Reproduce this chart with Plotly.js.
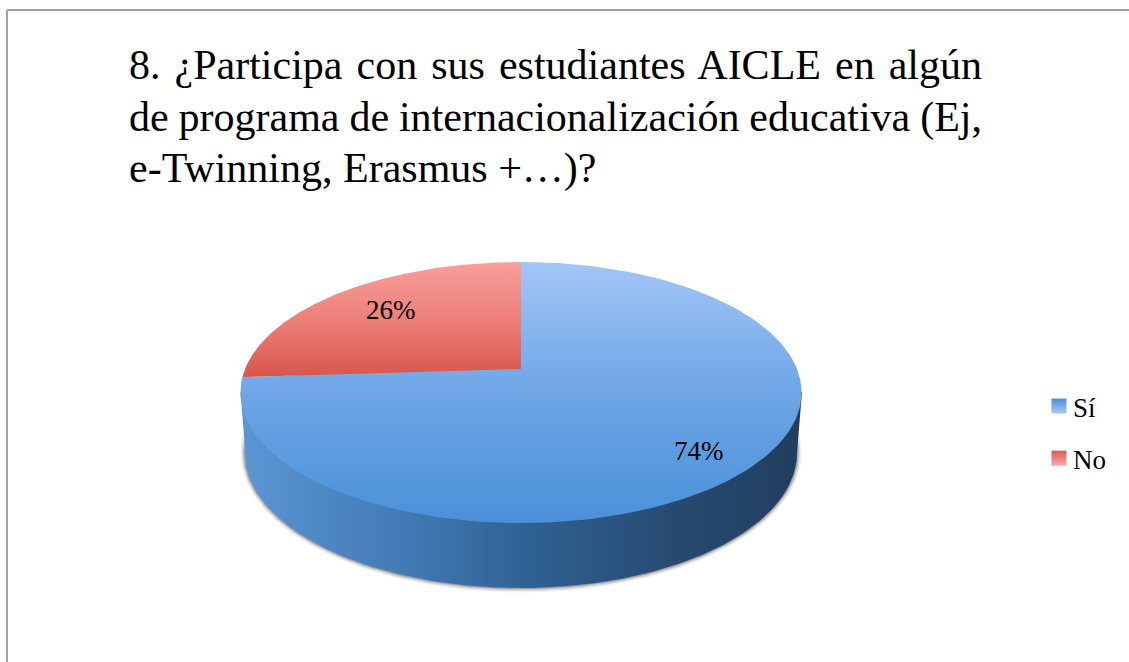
<!DOCTYPE html>
<html>
<head>
<meta charset="utf-8">
<script src="https://cdn.plot.ly/plotly-3.0.1.min.js"></script>
<style>html,body{margin:0;padding:0;background:#fff}#chart{width:1129px;height:662px}</style>
</head>
<body>
<div id="chart"></div>
<script>
const categories = ['Sí', 'No'];
const values = [74, 26];
const labelX = [699, 391];
const labelY = [451, 310];
const titleLines = [
  '8. ¿Participa con sus estudiantes AICLE en algún',
  'de programa de internacionalización educativa (Ej,',
  'e-Twinning, Erasmus +…)?'
];
const faceScales = [
  [[0, '#a2c6f7'], [0.5, '#6ea6e6'], [1, '#4a90d8']],
  [[0, '#f8a09c'], [0.5, '#ec7f78'], [1, '#d9564c']]
];
const legendColors = [
  ['#a8cbf8', '#4a8fd6'],
  ['#fba9a6', '#d95a50']
];
const wallScale = [[0, '#5b95d4'], [0.3, '#4079b3'], [0.52, '#2f6092'], [0.78, '#274a71'], [1, '#213e5f']];
const serif = '"Liberation Serif", "Times New Roman", serif';

/* perspective disc: apex at (cx, cy), far edge shrinks */
const cx = 521, cy = 369, A = 276, B = 126.3, P = 0.18;
function proj(deg) {
  const t = deg * Math.PI / 180, u = Math.sin(t), v = Math.cos(t), w = 1 + P * v;
  return [cx + A * u / w, cy - B * v / w];
}
function sector(fromDeg, toDeg) {
  const xs = [cx], ys = [cy];
  for (let d = fromDeg; d <= toDeg + 1e-6; d += (toDeg - fromDeg) / 240) {
    const p = proj(d); xs.push(p[0]); ys.push(p[1]);
  }
  xs.push(cx); ys.push(cy);
  return [xs, ys];
}
function ellipse(ex, ey, rx, ry, from, to) {
  const xs = [], ys = [];
  for (let i = 0; i <= 240; i++) {
    const t = (from + (to - from) * i / 240) * Math.PI / 180;
    xs.push(ex + rx * Math.cos(t)); ys.push(ey + ry * Math.sin(t));
  }
  return [xs, ys];
}

const traces = [];
/* soft shadow beneath the wall */
[[4.5, 0.07], [3.2, 0.10], [2, 0.16], [1, 0.22]].forEach(function (s) {
  const e = ellipse(521, 453, 276 + s[0], 135 + s[0], 0, 360);
  traces.push({x: e[0], y: e[1], mode: 'lines', fill: 'toself', line: {width: 0},
    fillcolor: 'rgba(40,40,40,' + s[1] + ')', showlegend: false, hoverinfo: 'skip'});
});
/* side wall */
const w1 = ellipse(521, 453, 276, 135, 180, 0);
traces.push({x: [240.5].concat(w1[0], [802]), y: [392].concat(w1[1], [392]), mode: 'lines', fill: 'toself',
  line: {width: 0}, fillgradient: {type: 'horizontal', colorscale: wallScale, start: 245, stop: 800},
  showlegend: false, hoverinfo: 'skip'});
/* top faces, from the values */
const total = values.reduce(function (a, b) { return a + b; }, 0);
let acc = 0;
values.forEach(function (v, i) {
  const a0 = acc / total * 360, a1 = (acc + v) / total * 360;
  acc += v;
  const s = sector(a0, a1);
  const ys = s[1].slice().sort(function (p, q) { return p - q; });
  traces.push({x: s[0], y: s[1], mode: 'lines', fill: 'toself', line: {width: 0},
    fillgradient: {type: 'vertical', colorscale: faceScales[i], start: ys[0], stop: ys[ys.length - 1]},
    name: categories[i], showlegend: false, hoverinfo: 'skip'});
});
/* legend keys */
categories.forEach(function (c, i) {
  traces.push({x: [null], y: [null], mode: 'markers', name: c, legendgroup: c,
    marker: {symbol: 'square', size: 15, color: legendColors[i][1], line: {width: 0},
      gradient: {type: 'vertical', color: legendColors[i][0]}}, hoverinfo: 'skip'});
});

const layout = {
  width: 1129, height: 662, margin: {l: 0, r: 0, t: 0, b: 0},
  paper_bgcolor: '#fff', plot_bgcolor: 'rgba(0,0,0,0)',
  title: {text: titleLines.join('<br>'), x: 129 / 1129, xanchor: 'left', xref: 'paper',
    y: 1 - 79 / 662, yanchor: 'top', yref: 'container', font: {family: serif, size: 42, color: '#000'}},
  xaxis: {range: [0, 1129], visible: false, fixedrange: true},
  yaxis: {range: [662, 0], visible: false, fixedrange: true},
  showlegend: true,
  legend: {x: 1039 / 1129, y: 1 - 382 / 662, xanchor: 'left', yanchor: 'top', tracegroupgap: 14,
    bgcolor: 'rgba(0,0,0,0)', font: {family: serif, size: 27, color: '#000'}, itemsizing: 'trace'},
  shapes: [
    {type: 'line', xref: 'paper', yref: 'paper', x0: 7 / 1129, x1: 7 / 1129, y0: 0, y1: 1 - 10 / 662, line: {color: '#a3a3a3', width: 2}},
    {type: 'line', xref: 'paper', yref: 'paper', x0: 7 / 1129, x1: 1, y0: 1 - 10 / 662, y1: 1 - 10 / 662, line: {color: '#a3a3a3', width: 2}}
  ],
  annotations: values.map(function (v, i) {
    return {x: labelX[i], y: labelY[i], xref: 'x', yref: 'y', text: v + '%', showarrow: false,
      font: {family: serif, size: 27, color: '#000'}};
  })
};

Plotly.newPlot('chart', traces, layout, {staticPlot: true, displayModeBar: false}).then(function () {
  /* title block: tight leading and justified first two lines */
  const t = document.querySelector('.gtitle');
  if (t) {
    const lines = t.querySelectorAll('tspan.line');
    const target = 853;
    lines.forEach(function (ln, i) {
      ln.setAttribute('dy', (i * 51.5) + 'px');
      if (i < 2) {
        const gaps = (titleLines[i].match(/ /g) || []).length;
        const extra = (target - ln.getComputedTextLength()) / gaps;
        ln.style.wordSpacing = extra + 'px';
      }
    });
  }
  /* legend labels sit closer to their keys */
  document.querySelectorAll('.legendtext').forEach(function (el) {
    el.setAttribute('x', parseFloat(el.getAttribute('x')) - 6);
  });
});
</script>
</body>
</html>
